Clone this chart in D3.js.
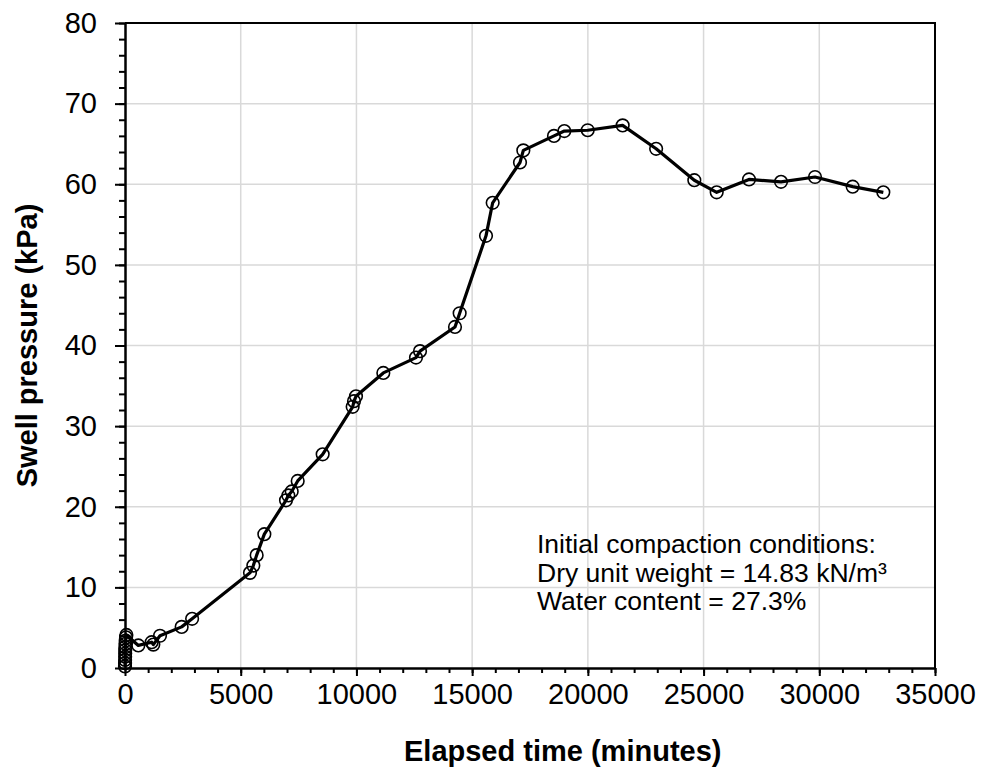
<!DOCTYPE html>
<html>
<head>
<meta charset="utf-8">
<script src="https://cdn.jsdelivr.net/npm/d3@7"></script>
<style>
  body { margin: 0; background: #fff; }
  text { font-family: "Liberation Sans", Arial, sans-serif; fill: #000; }
</style>
</head>
<body>
<div id="chart"></div>
<script>
// Swell pressure vs elapsed time
const elapsedTime = [0, 2, 4, 6, 8, 10, 15, 20, 30, 45, 60,
  576, 1152, 1224, 1512, 2448, 2900,
  5401, 5545, 5689, 6021, 6957, 7058, 7203, 7462, 8541,
  9837, 9895, 9981, 11162, 12574, 12747, 14259, 14460,
  15599, 15887, 17068, 17212, 18537, 18983, 19993, 21504,
  22950, 24600, 25567, 26963, 28346, 29815, 31443, 32767];
const swellPressure = [0.2, 0.6, 1.0, 1.4, 1.8, 2.2, 2.6, 3.0, 3.4, 3.8, 4.1,
  2.8, 3.2, 2.9, 4.0, 5.1, 6.1,
  11.8, 12.7, 14.0, 16.6, 20.8, 21.4, 21.9, 23.2, 26.5,
  32.4, 33.1, 33.7, 36.6, 38.5, 39.3, 42.3, 44.0,
  53.6, 57.7, 62.7, 64.2, 66.0, 66.6, 66.7, 67.3,
  64.4, 60.5, 59.0, 60.6, 60.3, 60.9, 59.7, 59.0];

const xTicks = [0, 5000, 10000, 15000, 20000, 25000, 30000, 35000];
const yTicks = [0, 10, 20, 30, 40, 50, 60, 70, 80];
const noteLines = ["Initial compaction conditions:",
  "Dry unit weight = 14.83 kN/m\u00B3",
  "Water content = 27.3%"];

const width = 987, height = 778;
const margin = {top: 23, right: 52, bottom: 110, left: 125};

const data = elapsedTime.map((t, i) => ({t: t, p: swellPressure[i]}));

const svg = d3.select("#chart")
  .append("svg")
  .attr("width", width)
  .attr("height", height);

const xScale = d3.scaleLinear()
  .domain([0, 35000])
  .range([margin.left, width - margin.right]);

const yScale = d3.scaleLinear()
  .domain([0, 80])
  .range([height - margin.bottom, margin.top]);

// gridlines
svg.append("g")
  .selectAll("line")
  .data(xTicks.slice(1, -1))
  .enter()
  .append("line")
    .attr("x1", d => xScale(d))
    .attr("x2", d => xScale(d))
    .attr("y1", yScale(0))
    .attr("y2", yScale(80))
    .attr("stroke", "#d9d9d9")
    .attr("stroke-width", 1.5);

svg.append("g")
  .selectAll("line")
  .data(yTicks.slice(1, -1))
  .enter()
  .append("line")
    .attr("x1", xScale(0))
    .attr("x2", xScale(35000))
    .attr("y1", d => yScale(d))
    .attr("y2", d => yScale(d))
    .attr("stroke", "#d9d9d9")
    .attr("stroke-width", 1.5);

// top and right frame
svg.append("path")
  .attr("d", `M${xScale(0)},${yScale(80)}H${xScale(35000)}V${yScale(0)}`)
  .attr("fill", "none")
  .attr("stroke", "#000")
  .attr("stroke-width", 2);

// minor ticks
svg.append("g")
  .attr("transform", `translate(0,${yScale(0)})`)
  .call(d3.axisBottom(xScale).tickValues(d3.range(0, 35001, 1000)).tickSize(5).tickFormat(""))
  .call(g => g.select(".domain").remove())
  .selectAll("line").attr("stroke-width", 2);

svg.append("g")
  .attr("transform", `translate(${xScale(0)},0)`)
  .call(d3.axisLeft(yScale).tickValues(d3.range(0, 81, 2)).tickSize(6).tickFormat(""))
  .call(g => g.select(".domain").remove())
  .selectAll("line").attr("stroke-width", 2);

// x axis
const xAxis = svg.append("g")
  .attr("transform", `translate(0,${yScale(0)})`)
  .call(d3.axisBottom(xScale).tickValues(xTicks).tickFormat(d3.format("d"))
    .tickSize(8).tickSizeOuter(0).tickPadding(7))
  .attr("font-size", "29px")
  .attr("font-family", "Liberation Sans, Arial, sans-serif");
xAxis.select(".domain").attr("stroke-width", 2.5);
xAxis.selectAll("line").attr("stroke-width", 2);

// y axis
const yAxis = svg.append("g")
  .attr("transform", `translate(${xScale(0)},0)`)
  .call(d3.axisLeft(yScale).tickValues(yTicks).tickSize(10).tickSizeOuter(0).tickPadding(18))
  .attr("font-size", "29px")
  .attr("font-family", "Liberation Sans, Arial, sans-serif");
yAxis.select(".domain").attr("stroke-width", 2.5);
yAxis.selectAll("line").attr("stroke-width", 2);

// the curve
const line = d3.line()
  .x(d => xScale(d.t))
  .y(d => yScale(d.p));

svg.append("path")
  .datum(data)
  .attr("d", line)
  .attr("fill", "none")
  .attr("stroke", "#000")
  .attr("stroke-width", 3.2)
  .attr("stroke-linejoin", "round");

svg.selectAll("circle")
  .data(data)
  .enter()
  .append("circle")
    .attr("cx", d => xScale(d.t))
    .attr("cy", d => yScale(d.p))
    .attr("r", 6.3)
    .attr("fill", "none")
    .attr("stroke", "#000")
    .attr("stroke-width", 1.6);

// axis titles
svg.append("text")
  .attr("x", 404)
  .attr("y", 761)
  .attr("font-size", "29px")
  .attr("font-weight", "bold")
  .text("Elapsed time (minutes)");

svg.append("text")
  .attr("transform", `translate(37,${(yScale(0) + yScale(80)) / 2}) rotate(-90)`)
  .attr("text-anchor", "middle")
  .attr("font-size", "29px")
  .attr("font-weight", "bold")
  .text("Swell pressure (kPa)");

// annotation
svg.append("g")
  .selectAll("text")
  .data(noteLines)
  .enter()
  .append("text")
    .attr("x", 537)
    .attr("y", (d, i) => 553 + i * 28.5)
    .attr("font-size", "26.5px")
    .text(d => d);
</script>
</body>
</html>
